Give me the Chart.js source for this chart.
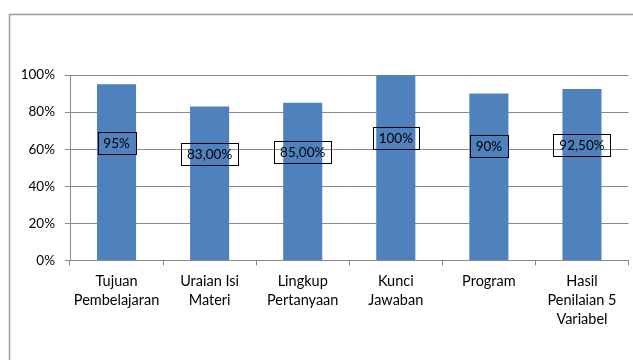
<!DOCTYPE html>
<html>
<head>
<meta charset="utf-8">
<script src="https://cdn.jsdelivr.net/npm/chart.js@4/dist/chart.umd.min.js"></script>
<style>
  html, body { margin: 0; padding: 0; background: #fff; }
  #wrap { width: 633px; height: 360px; position: relative; }
</style>
</head>
<body>
<div id="wrap"><canvas id="chart" width="633" height="360"></canvas></div>
<script>
// Kategori penilaian
const categories = [
  ["Tujuan", "Pembelajaran"],
  ["Uraian Isi", "Materi"],
  ["Lingkup", "Pertanyaan"],
  ["Kunci", "Jawaban"],
  "Program",
  ["Hasil", "Penilaian 5", "Variabel"]
];
// Persentase tiap kategori
const values = [95, 83, 85, 100, 90, 92.5];
// Jumlah desimal pada label nilai
const labelDecimals = [0, 2, 2, 0, 0, 2];
// Label sumbu Y
const yTicks = [0, 20, 40, 60, 80, 100];

const FONT = "Lato, 'Open Sans', sans-serif";
const GRID = '#8a8a8a';

function formatPct(v, d) {
  return v.toFixed(d).replace('.', ',') + '%';
}

// Bingkai luar area grafik
const framePlugin = {
  id: 'frame',
  beforeDraw(chart) {
    const ctx = chart.ctx;
    ctx.save();
    ctx.strokeStyle = '#9a9a9a';
    ctx.lineWidth = 1.5;
    ctx.strokeRect(9.5, 14.5, 700, 400);
    ctx.restore();
  }
};

// Label nilai dalam kotak di atas batang
const boxLabelPlugin = {
  id: 'boxLabels',
  afterDatasetsDraw(chart, args, opts) {
    const ctx = chart.ctx;
    const meta = chart.getDatasetMeta(0);
    const yScale = chart.scales.y;
    ctx.save();
    ctx.font = '13.5px ' + FONT;
    ctx.textAlign = 'center';
    ctx.textBaseline = 'middle';
    meta.data.forEach((bar, i) => {
      const text = formatPct(values[i], labelDecimals[i]);
      const cx = bar.x;
      const cy = yScale.getPixelForValue(opts.anchors[i]);
      const w = Math.round(ctx.measureText(text).width + 12);
      const h = 22;
      const x0 = Math.round(cx - w / 2) + 0.5;
      const y0 = Math.round(cy - h / 2) + 0.5;
      ctx.strokeStyle = '#000';
      ctx.lineWidth = 1;
      ctx.strokeRect(x0, y0, w, h);
      ctx.fillStyle = '#000';
      ctx.fillText(text, cx, cy + 1);
    });
    ctx.restore();
  }
};

new Chart(document.getElementById('chart'), {
  type: 'bar',
  data: {
    labels: categories,
    datasets: [{
      data: values,
      backgroundColor: '#4F81BD',
      borderWidth: 0,
      categoryPercentage: 1.0,
      barPercentage: 0.42
    }]
  },
  options: {
    responsive: false,
    animation: false,
    layout: { padding: { top: 75, right: 4.5, bottom: 0, left: 0 } },
    plugins: {
      legend: { display: false },
      tooltip: { enabled: false },
      boxLabels: { anchors: [63.5, 57.6, 58.6, 66.2, 61.9, 62.3] }
    },
    scales: {
      x: {
        grid: {
          display: true,
          drawOnChartArea: false,
          drawTicks: true,
          tickLength: 5,
          color: GRID,
          offset: true
        },
        border: { display: true, color: GRID },
        ticks: {
          color: '#000',
          font: { family: FONT, size: 14.5, lineHeight: 1.31 },
          padding: 6,
          maxRotation: 0,
          autoSkip: false
        },
        afterFit(scale) { scale.height = 99.5; }
      },
      y: {
        min: 0,
        max: 100,
        afterBuildTicks(scale) { scale.ticks = yTicks.map(v => ({ value: v })); },
        grid: {
          color: GRID,
          drawTicks: true,
          tickLength: 5
        },
        border: { display: true, color: GRID },
        ticks: {
          color: '#000',
          font: { family: FONT, size: 13.5 },
          padding: 10,
          callback: v => v + '%'
        },
        afterFit(scale) { scale.width = 70; }
      }
    }
  },
  plugins: [framePlugin, boxLabelPlugin]
});
</script>
</body>
</html>
